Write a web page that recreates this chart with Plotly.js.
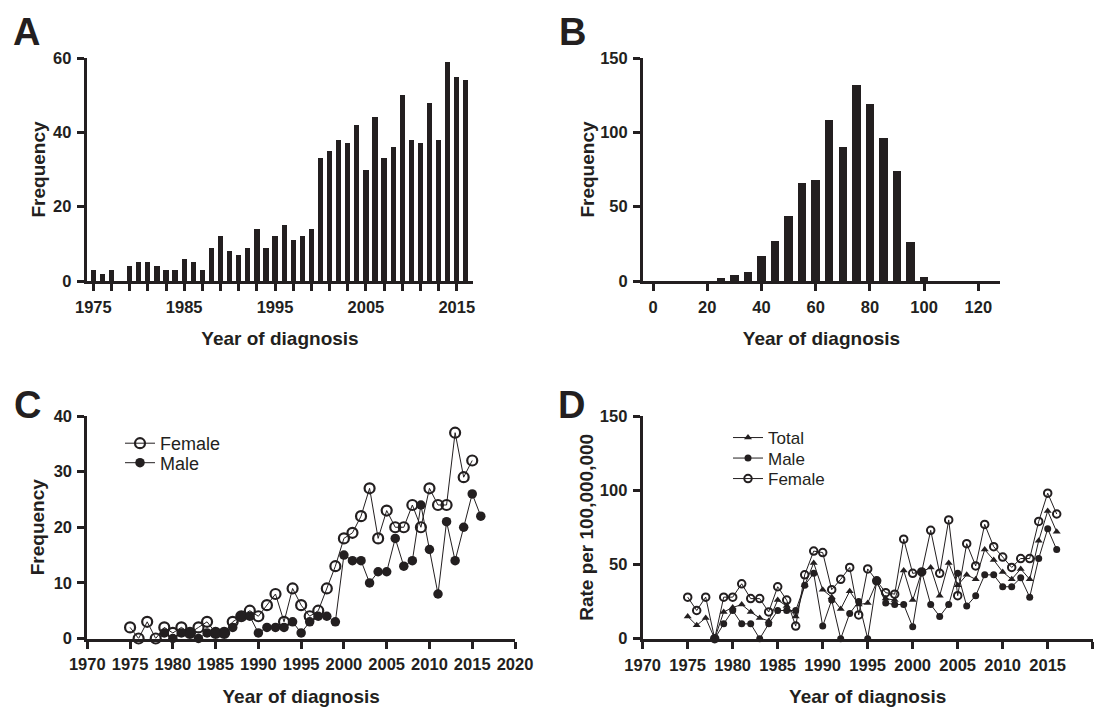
<!DOCTYPE html>
<html>
<head>
<meta charset="utf-8">
<script src="https://cdn.plot.ly/plotly-3.0.1.min.js"></script>
<style>html,body{margin:0;padding:0;background:#fff;}#chart{width:1110px;height:707px;}</style>
</head>
<body>
<div id="chart"></div>
<script>
// Panel A: cases per year of diagnosis
const yearsA = [1975,1976,1977,1978,1979,1980,1981,1982,1983,1984,1985,1986,1987,1988,1989,1990,1991,1992,1993,1994,1995,1996,1997,1998,1999,2000,2001,2002,2003,2004,2005,2006,2007,2008,2009,2010,2011,2012,2013,2014,2015,2016];
const freqA = [3,2,3,0,4,5,5,4,3,3,6,5,3,9,12,8,7,9,14,9,12,15,11,12,14,33,35,38,37,42,30,44,33,36,50,38,37,48,38,59,55,54];

// Panel B: age at diagnosis histogram
const ageB = [25,30,35,40,45,50,55,60,65,70,75,80,85,90,95,100];
const freqB = [2,4,6,17,27,44,66,68,108,90,132,119,96,74,26,3];

// Panel C: frequency by sex
const yearsCFemale = [1975,1976,1977,1978,1979,1980,1981,1982,1983,1984,1985,1986,1987,1988,1989,1990,1991,1992,1993,1994,1995,1996,1997,1998,1999,2000,2001,2002,2003,2004,2005,2006,2007,2008,2009,2010,2011,2012,2013,2014,2015];
const freqCFemale = [2,0,3,0,2,1,2,1,2,3,1,1,3,4,5,4,6,8,3,9,6,4,5,9,13,18,19,22,27,18,23,20,20,24,20,27,24,24,37,29,32];
const yearsCMale = [1979,1980,1981,1982,1983,1984,1985,1986,1987,1988,1989,1990,1991,1992,1993,1994,1995,1996,1997,1998,1999,2000,2001,2002,2003,2004,2005,2006,2007,2008,2009,2010,2011,2012,2013,2014,2015,2016];
const freqCMale = [1,0,1,1,0,1,1,1,2,4,4,1,2,2,2,3,1,3,4,4,3,15,14,14,10,12,12,18,13,14,24,16,8,21,14,20,26,22];

// Panel D: rate per 100,000,000
const yearsD = [1975,1976,1977,1978,1979,1980,1981,1982,1983,1984,1985,1986,1987,1988,1989,1990,1991,1992,1993,1994,1995,1996,1997,1998,1999,2000,2001,2002,2003,2004,2005,2006,2007,2008,2009,2010,2011,2012,2013,2014,2015,2016];
const rateDTotal = [15,9,14,0,18,21,23,18,14,12,26,22,15,36,51,33,28,20,32,23,24,38,27,26,46,26,45,48,29,51,36,43,40,60,53,45,40,47,40,66,86,72];
const rateDFemale = [28,19,28,0,28,28,37,27,27,18,35,26,8.5,43,59,58,33,40,48,16,47,39,31,30,67,44,45,73,44,80,29,64,49,77,62,55,48,54,54,79,98,84];
const yearsDMale = [1978,1979,1980,1981,1982,1983,1984,1985,1986,1987,1988,1989,1990,1991,1992,1993,1994,1995,1996,1997,1998,1999,2000,2001,2002,2003,2004,2005,2006,2007,2008,2009,2010,2011,2012,2013,2014,2015,2016];
const rateDMale = [0,10,19,10,10,0,10,19,19,19,36,44,8.5,26,0,17,25,0,39,24,23,23,8,45,23,15,23,44,22,29,43,43,35,35,41,28,54,74,60];

// Tick labels
const tickValsA = [1975,1977,1979,1981,1983,1985,1987,1989,1991,1993,1995,1997,1999,2001,2003,2005,2007,2009,2011,2013,2015];
const tickTextA = ['1975','','','','','1985','','','','','1995','','','','','2005','','','','','2015'];
const tickValsB = [0,20,40,60,80,100,120];
const tickValsYear = [1970,1975,1980,1985,1990,1995,2000,2005,2010,2015,2020];

const INK = '#231f20';
const FONT = 'Liberation Sans, Arial, Helvetica, sans-serif';
const W = 1110, H = 707;
const px = v => v / W;
const py = v => 1 - v / H;

function axisBase(extra) {
  return Object.assign({
    showline: true, linewidth: 3, linecolor: INK,
    ticks: 'outside', ticklen: 7, tickwidth: 3, tickcolor: INK,
    showgrid: false, zeroline: false, fixedrange: true,
    tickfont: {family: FONT, size: 16.5, color: INK, weight: 700},
    ticklabelstandoff: 2
  }, extra);
}
const titleFont = {family: FONT, size: 19, color: INK, weight: 700};

const traces = [
  {type: 'bar', x: yearsA, y: freqA, xaxis: 'x', yaxis: 'y', width: 0.58,
   marker: {color: INK}, showlegend: false},
  {type: 'bar', x: ageB, y: freqB, xaxis: 'x2', yaxis: 'y2', width: 3.1,
   marker: {color: INK}, showlegend: false},
  {type: 'scatter', mode: 'lines+markers', name: 'Female', x: yearsCFemale, y: freqCFemale,
   xaxis: 'x3', yaxis: 'y3', legend: 'legend', cliponaxis: false,
   line: {color: INK, width: 1},
   marker: {symbol: 'circle-open', size: 10, color: INK, line: {width: 2.2, color: INK}}},
  {type: 'scatter', mode: 'lines+markers', name: 'Male', x: yearsCMale, y: freqCMale,
   xaxis: 'x3', yaxis: 'y3', legend: 'legend', cliponaxis: false,
   line: {color: INK, width: 1},
   marker: {symbol: 'circle', size: 9.5, color: INK}},
  {type: 'scatter', mode: 'lines+markers', name: 'Total', x: yearsD, y: rateDTotal,
   xaxis: 'x4', yaxis: 'y4', legend: 'legend2', cliponaxis: false,
   line: {color: INK, width: 1},
   marker: {symbol: 'triangle-up', size: 7, color: INK}},
  {type: 'scatter', mode: 'lines+markers', name: 'Male', x: yearsDMale, y: rateDMale,
   xaxis: 'x4', yaxis: 'y4', legend: 'legend2', cliponaxis: false,
   line: {color: INK, width: 1},
   marker: {symbol: 'circle', size: 7, color: INK}},
  {type: 'scatter', mode: 'lines+markers', name: 'Female', x: yearsD, y: rateDFemale,
   xaxis: 'x4', yaxis: 'y4', legend: 'legend2', cliponaxis: false,
   line: {color: INK, width: 1},
   marker: {symbol: 'circle-open', size: 7.5, color: INK, line: {width: 2, color: INK}}}
];

const letter = (t, x, y) => ({text: t, x: px(x), y: py(y), xref: 'paper', yref: 'paper',
  showarrow: false, xanchor: 'center', yanchor: 'middle',
  font: {family: FONT, size: 38, color: INK, weight: 700}});

const layout = {
  width: W, height: H,
  margin: {l: 0, r: 0, t: 0, b: 0},
  paper_bgcolor: '#fff', plot_bgcolor: '#fff',
  bargap: 0,
  font: {family: FONT, color: INK},
  xaxis: axisBase({domain: [px(86.7), px(473.3)], range: [1974.27, 2016.82], anchor: 'y',
    tickvals: tickValsA, ticktext: tickTextA,
    title: {text: 'Year of diagnosis', font: titleFont, standoff: 17}}),
  yaxis: axisBase({domain: [py(281), py(58)], range: [0, 60], anchor: 'x',
    tickvals: [0, 20, 40, 60],
    title: {text: 'Frequency', font: titleFont, standoff: 3}}),
  xaxis2: axisBase({domain: [px(643), px(1000)], range: [-3.69, 128], anchor: 'y2',
    tickvals: tickValsB,
    title: {text: 'Year of diagnosis', font: titleFont, standoff: 17}}),
  yaxis2: axisBase({domain: [py(281), py(58)], range: [0, 150], anchor: 'x2',
    tickvals: [0, 50, 100, 150],
    title: {text: 'Frequency', font: titleFont, standoff: 1}}),
  xaxis3: axisBase({domain: [px(87.3), px(515)], range: [1970, 2020], anchor: 'y3',
    tickvals: tickValsYear,
    title: {text: 'Year of diagnosis', font: titleFont, standoff: 20}}),
  yaxis3: axisBase({domain: [py(638.5), py(416)], range: [0, 40], anchor: 'x3',
    tickvals: [0, 10, 20, 30, 40],
    title: {text: 'Frequency', font: titleFont, standoff: 4}}),
  xaxis4: axisBase({domain: [px(642.7), px(1092.7)], range: [1970, 2020], anchor: 'y4',
    tickvals: tickValsYear,
    title: {text: 'Year of diagnosis', font: titleFont, standoff: 20}}),
  yaxis4: axisBase({domain: [py(638.7), py(416)], range: [0, 150], anchor: 'x4',
    tickvals: [0, 50, 100, 150],
    title: {text: 'Rate per 100,000,000', font: titleFont, standoff: 2}}),
  legend: {x: px(120), y: py(425), xanchor: 'left', yanchor: 'top', bgcolor: 'rgba(0,0,0,0)',
    font: {family: FONT, size: 18, color: INK}, traceorder: 'normal', tracegroupgap: 0, itemwidth: 30},
  legend2: {x: px(728), y: py(420), xanchor: 'left', yanchor: 'top', bgcolor: 'rgba(0,0,0,0)',
    font: {family: FONT, size: 17, color: INK}, traceorder: 'normal', tracegroupgap: 0, itemwidth: 30},
  annotations: [letter('A', 26, 32), letter('B', 572, 32), letter('C', 27, 405), letter('D', 571, 405)]
};

// tighten legend row spacing to match the compact reference legends
function tightenLegend(gd, cls, spacing) {
  const leg = gd.querySelector('g.' + cls);
  if (!leg) return;
  const items = leg.querySelectorAll('g.traces');
  let y0 = null;
  items.forEach((el, i) => {
    const m = /translate\(\s*([-\d.]+)[ ,]+([-\d.]+)\s*\)/.exec(el.getAttribute('transform') || '');
    if (!m) return;
    const x = parseFloat(m[1]), y = parseFloat(m[2]);
    if (y0 === null) y0 = y;
    el.setAttribute('transform', 'translate(' + x + ',' + (y0 + i * spacing) + ')');
  });
}

Plotly.newPlot('chart', traces, layout, {displayModeBar: false, staticPlot: true}).then(gd => {
  tightenLegend(gd, 'legend', 19.5);
  tightenLegend(gd, 'legend2', 20.5);
});
</script>
</body>
</html>
